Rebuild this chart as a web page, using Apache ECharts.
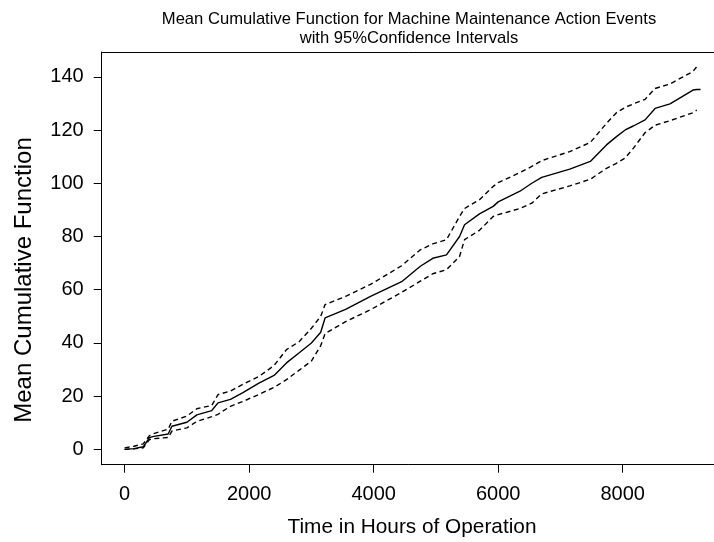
<!DOCTYPE html>
<html>
<head>
<meta charset="utf-8">
<script src="https://cdn.jsdelivr.net/npm/echarts@6/dist/echarts.min.js"></script>
<style>
  html, body { margin: 0; padding: 0; background: #fff; }
  #chart { width: 714px; height: 542px; }
</style>
</head>
<body>
<div id="chart"></div>
<script>
// Operating time (hours) at which the curves are sampled
const hours = [0, 150, 300, 400, 450, 700, 760, 1000, 1160, 1400, 1500, 1700, 1900, 2150,
  2400, 2600, 2800, 3000, 3150, 3220, 3550, 3950, 4450, 4750, 4950, 5170, 5380, 5460,
  5700, 5920, 6000, 6350, 6540, 6700, 7150, 7480, 7740, 7900, 8040, 8170, 8360, 8520,
  8760, 9130, 9190, 9250];

// Mean cumulative function
const mcf = [0, 0.3, 1, 4.4, 4.8, 5.8, 8.7, 10.2, 13, 14.6, 17.5, 18.8, 21.3, 24.8,
  27.8, 32.5, 36.2, 40, 44, 49.4, 52.6, 57.5, 63, 68.8, 71.8, 73.1, 80, 84.4,
  88.5, 91.3, 93, 97, 100, 102.2, 105.3, 108.2, 114.4, 117.5, 120, 121.5, 123.8, 128.1,
  129.8, 135, 135.2, 135.2];

// Upper 95% confidence limit
const upper = [0.6, 1.2, 2.1, 5.2, 5.8, 7.6, 10.6, 12.5, 15.3, 16.5, 20.6, 21.9, 24.5, 27.3,
  31.5, 37.5, 40.4, 45.5, 50, 54.4, 57.5, 62, 69, 75, 77.2, 78.8, 87.5, 90.5,
  93.8, 98.8, 100.2, 104, 106.3, 108.5, 111.9, 115.3, 122.5, 126.5, 128.5, 129.8, 131.5, 135.6,
  137.3, 142, 143.8, null];

// Lower 95% confidence limit
const lower = [0, 0.2, 0.6, 3.7, 4.0, 4.5, 6.9, 8.1, 10.5, 12.3, 13.2, 16.2, 18, 20.6,
  23.3, 26.2, 29.7, 33.2, 39, 43.5, 48, 52.5, 59, 63.2, 66, 67.5, 72.5, 78.8,
  82.3, 87.5, 88.2, 90.5, 92.5, 96, 99, 101.5, 105.6, 107.5, 109.5, 113.1, 119, 121.8,
  123.5, 126.5, 127.5, null];

// Tick positions
const xTicks = [0, 2000, 4000, 6000, 8000];
const yTicks = [0, 20, 40, 60, 80, 100, 120, 140];

const titleLines = [
  'Mean Cumulative Function for Machine Maintenance Action Events',
  'with 95%Confidence Intervals'
];
const xTitle = 'Time in Hours of Operation';
const yTitle = 'Mean Cumulative Function';

const FONT = '"Liberation Sans", Arial, Helvetica, sans-serif';

const pair = (vals) => hours.map((h, i) => [h, vals[i]]);

// Axis ranges padded 4% beyond the data on each side
const xMin = -368, xMax = 9568;
const yMin = -5.74, yMax = 149.3;

const chart = echarts.init(document.getElementById('chart'), null, { renderer: 'canvas' });

const axisTick = { show: true, inside: false, length: 8, lineStyle: { color: '#000', width: 1 } };
const boxLine = { show: true, onZero: false, lineStyle: { color: '#000', width: 1 } };
const plain = (v) => String(v);

chart.setOption({
  animation: false,
  backgroundColor: '#fff',
  grid: {
    left: 101.7, top: 52, width: 618.6, height: 412.7,
    outerBoundsMode: 'none', containLabel: false, show: false
  },
  xAxis: [
    {
      type: 'value', min: xMin, max: xMax, position: 'bottom',
      splitLine: { show: false },
      axisLine: boxLine,
      axisTick: Object.assign({ customValues: xTicks }, axisTick),
      axisLabel: {
        customValues: xTicks, formatter: plain, color: '#000', fontFamily: FONT, fontSize: 20, margin: 20
      }
    },
    {
      // top edge of the plot frame
      type: 'value', min: xMin, max: xMax, position: 'top',
      splitLine: { show: false },
      axisLine: boxLine,
      axisTick: { show: false },
      axisLabel: { show: false }
    }
  ],
  yAxis: {
    type: 'value', min: yMin, max: yMax, position: 'left',
    splitLine: { show: false },
    axisLine: boxLine,
    axisTick: Object.assign({ customValues: yTicks }, axisTick),
    axisLabel: {
      customValues: yTicks, formatter: plain, color: '#000', fontFamily: FONT, fontSize: 20, margin: 18
    }
  },
  graphic: [
    { type: 'text', x: 409, y: 19, style: { text: titleLines[0], font: '16.6px ' + FONT, fill: '#000', textAlign: 'center', textVerticalAlign: 'middle' } },
    { type: 'text', x: 409, y: 38, style: { text: titleLines[1], font: '16.6px ' + FONT, fill: '#000', textAlign: 'center', textVerticalAlign: 'middle' } },
    { type: 'text', x: 412, y: 527, style: { text: xTitle, font: '20.8px ' + FONT, fill: '#000', textAlign: 'center', textVerticalAlign: 'middle' } },
    { type: 'text', x: 24, y: 280, rotation: Math.PI / 2, style: { text: yTitle, font: '24px ' + FONT, fill: '#000', textAlign: 'center', textVerticalAlign: 'middle' } }
  ],
  series: [
    {
      name: 'MCF', type: 'line', data: pair(mcf), showSymbol: false, silent: true,
      lineStyle: { color: '#000', width: 1.4, type: 'solid' }
    },
    {
      name: 'Upper 95%', type: 'line', data: pair(upper), showSymbol: false, silent: true, connectNulls: false,
      lineStyle: { color: '#000', width: 1.4, type: [5, 3.5] }
    },
    {
      name: 'Lower 95%', type: 'line', data: pair(lower), showSymbol: false, silent: true, connectNulls: false,
      lineStyle: { color: '#000', width: 1.4, type: [5, 3.5] }
    }
  ]
});
</script>
</body>
</html>
